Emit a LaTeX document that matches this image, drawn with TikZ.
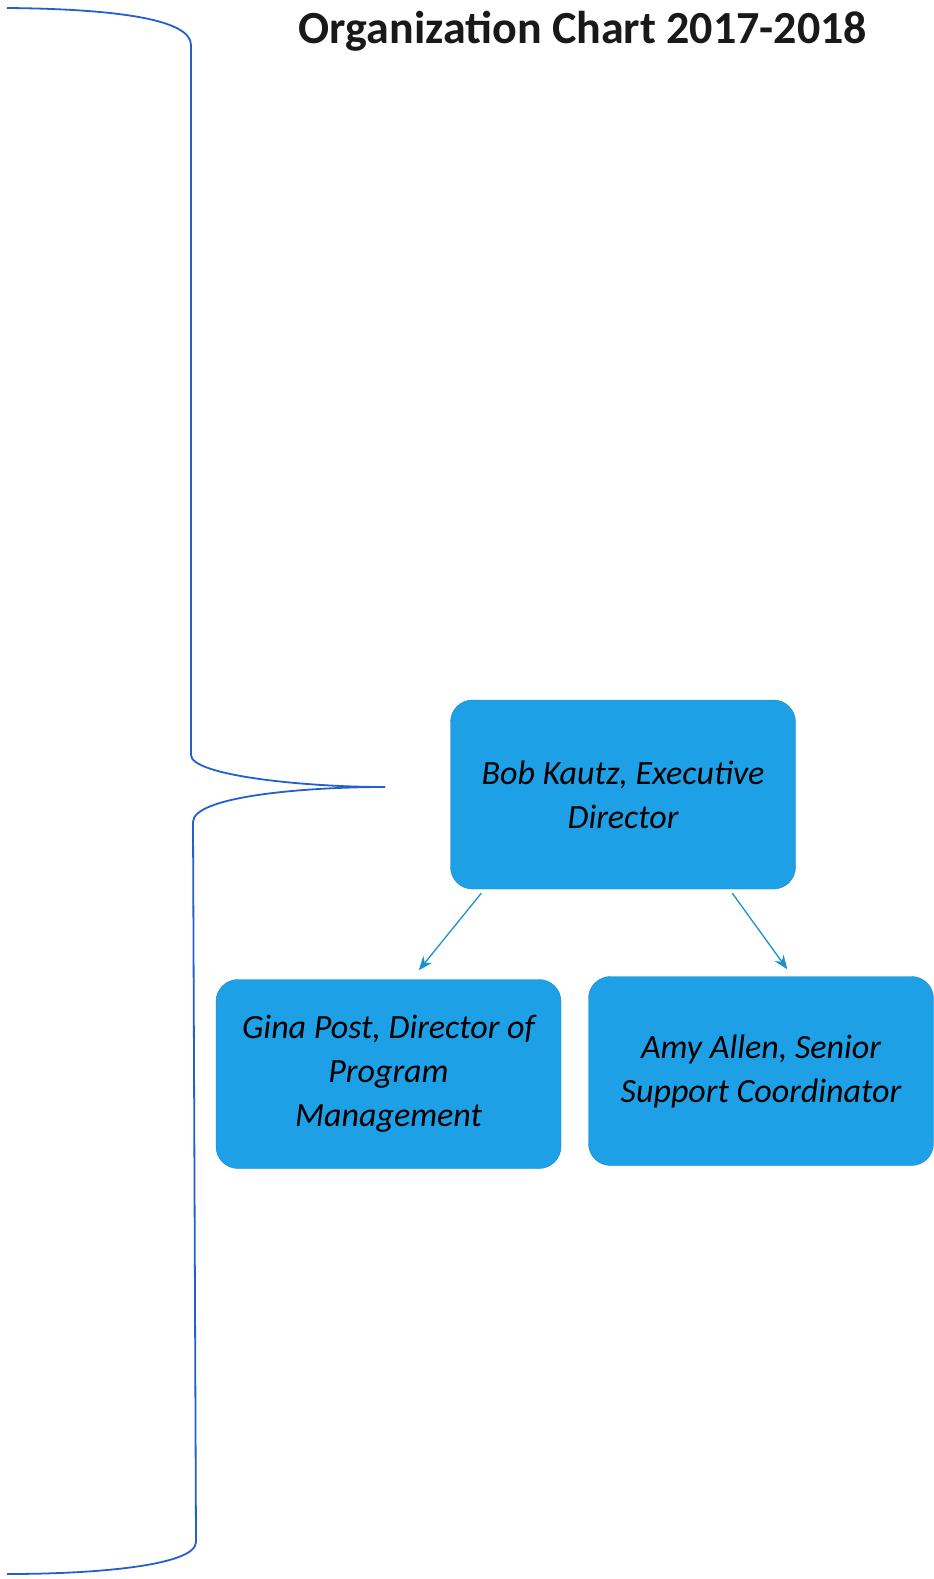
\documentclass[tikz,border=0pt]{standalone}
\usepackage{fontspec}
\setmainfont{Carlito}
\usepackage{tikz}
\usetikzlibrary{arrows.meta}
\usepackage{xcolor}
\definecolor{orgblue}{RGB}{30,160,230}
\definecolor{braceblue}{RGB}{35,95,205}

\begin{document}
\begin{tikzpicture}[x=1pt,y=1pt,
    person/.style={draw=orgblue!85!black,fill=orgblue,rounded corners=22pt,
        minimum width=345pt,minimum height=189pt,align=center,
        font=\fontsize{34}{44}\selectfont\itshape},
    link/.style={draw=orgblue!90!black,line width=1.3pt,-{Stealth[length=14pt,width=11pt]}}]
    \useasboundingbox (0,0) rectangle (934,-1579);
    \node[font=\fontsize{46}{50}\selectfont\bfseries,text=black!90] (title) at (583,-31) {Organization Chart 2017-2018};
    % brace on the left
    \coordinate (tip) at (385,-787);
    \draw[braceblue,line width=1.8pt] (7,-8) .. controls (120,-9) and (191,-20) .. (191,-45)
        -- (191,-755) .. controls (191,-775) and (300,-787) .. (tip)
        .. controls (300,-787) and (193,-797) .. (193,-822)
        -- (196,-1542) .. controls (196,-1565) and (100,-1574) .. (7,-1574);
    \node[person] (bob) at (623,-794.5) {Bob Kautz, Executive\\Director};
    \node[person] (gina) at (388.5,-1074) {Gina Post, Director of\\Program\\Management};
    \node[person] (amy) at (761,-1071) {Amy Allen, Senior\\Support Coordinator};
    \draw[link] ([xshift=31pt,yshift=-4pt]bob.south west) -- ([xshift=203pt,yshift=9pt]gina.north west);
    \draw[link] ([xshift=282pt,yshift=-4pt]bob.south west) -- ([xshift=199pt,yshift=7pt]amy.north west);
\end{tikzpicture}
\end{document}
